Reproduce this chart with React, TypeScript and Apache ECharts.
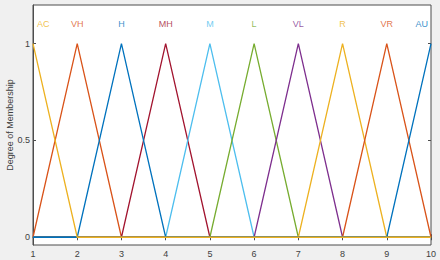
import React, { useEffect, useRef } from "react";
import * as echarts from "echarts";

const categories = ["AC", "VH", "H", "MH", "M", "L", "VL", "R", "VR", "AU"];
const paramA = [0, 1, 2, 3, 4, 5, 6, 7, 8, 9];
const paramB = [1, 2, 3, 4, 5, 6, 7, 8, 9, 10];
const paramC = [2, 3, 4, 5, 6, 7, 8, 9, 10, 11];
const colors = ["#EDB120", "#D95319", "#0072BD", "#A2142F", "#4DBEEE", "#77AC30", "#7E2F8E", "#EDB120", "#D95319", "#0072BD"];
const xTicks = [1, 2, 3, 4, 5, 6, 7, 8, 9, 10];
const yTicks = [0, 0.5, 1];
const drawOrder = [1, 3, 4, 5, 6, 7, 8, 9, 2, 0];
const labelLevel = 1.1;
const X_MIN = 1;
const X_MAX = 10;

function trimf(x: number, a: number, b: number, c: number) {
  const l = b === a ? (x >= b ? 1 : 0) : (x - a) / (b - a);
  const r = c === b ? (x <= b ? 1 : 0) : (c - x) / (c - b);
  return Math.max(0, Math.min(l, r));
}

function mfPoints(i: number) {
  const xs = [X_MIN, paramA[i], paramB[i], paramC[i], X_MAX].filter((x) => x >= X_MIN && x <= X_MAX);
  const uniq = Array.from(new Set(xs)).sort((p, q) => p - q);
  return uniq.map((x) => [x, trimf(x, paramA[i], paramB[i], paramC[i])]);
}

export default function App() {
  const ref = useRef<HTMLDivElement>(null);
  useEffect(() => {
    document.body.style.margin = "0";
    const chart = echarts.init(ref.current!, undefined, { renderer: "svg" });
    const font = "Liberation Sans, Arial, sans-serif";
    const axisColor = "#4d4d4d";
    const textColor = "#404040";
    const series: any[] = drawOrder.map((i) => ({
      type: "line",
      name: categories[i],
      data: mfPoints(i),
      showSymbol: false,
      symbol: "none",
      lineStyle: { color: colors[i], width: 1.3 },
      itemStyle: { color: colors[i] },
      xAxisIndex: 0,
      yAxisIndex: 0,
    }));
    series.push({
      type: "scatter",
      symbolSize: 0,
      silent: true,
      data: categories.map((c, i) => ({
        value: [paramB[i], labelLevel],
        name: c,
        label: {
          color: colors[i],
          align: paramB[i] === X_MIN ? "left" : paramB[i] === X_MAX ? "right" : "center",
          offset: paramB[i] === X_MIN ? [4, 0] : paramB[i] === X_MAX ? [-3, 0] : [0, 0],
        },
      })),
      label: {
        show: true,
        position: "inside",
        formatter: (p: any) => p.name,
        fontFamily: font,
        fontSize: 9,
      },
    });
    chart.setOption({
      animation: false,
      backgroundColor: "#f0f0f0",
      grid: {
        left: 33,
        right: 9,
        top: 5,
        bottom: 15,
        containLabel: false,
        outerBoundsMode: "none",
        show: true,
        backgroundColor: "#ffffff",
        borderColor: axisColor,
        borderWidth: 1,
      },
      xAxis: [
        {
          type: "value",
          min: X_MIN,
          max: X_MAX,
          interval: 1,
          axisLine: { show: true, lineStyle: { color: axisColor } },
          axisTick: { show: true, inside: true, length: 3, lineStyle: { color: axisColor } },
          axisLabel: {
            color: textColor,
            fontFamily: font,
            fontSize: 9,
            margin: 4,
            customValues: xTicks,
            showMinLabel: true,
            showMaxLabel: true,
          },
          splitLine: { show: false },
        },
        {
          type: "value",
          position: "top",
          min: X_MIN,
          max: X_MAX,
          interval: 1,
          axisLine: { show: false },
          axisTick: { show: true, inside: true, length: 3, lineStyle: { color: axisColor } },
          axisLabel: { show: false },
          splitLine: { show: false },
        },
      ],
      yAxis: [
        {
          type: "value",
          min: -0.04,
          max: 1.2,
          name: "Degree of Membership",
          nameLocation: "middle",
          nameGap: 19,
          nameMoveOverlap: false,
          nameRotate: 90,
          nameTextStyle: { fontFamily: font, fontSize: 9, color: textColor },
          axisLine: { show: true, lineStyle: { color: axisColor } },
          axisTick: { show: true, inside: true, length: 3, customValues: yTicks, lineStyle: { color: axisColor } },
          axisLabel: { color: textColor, fontFamily: font, fontSize: 9, margin: 3, customValues: yTicks },
          splitLine: { show: false },
        },
        {
          type: "value",
          position: "right",
          min: -0.04,
          max: 1.2,
          axisLine: { show: false },
          axisTick: { show: true, inside: true, length: 3, customValues: yTicks, lineStyle: { color: axisColor } },
          axisLabel: { show: false, customValues: yTicks },
          splitLine: { show: false },
        },
      ],
      series,
    });
    return () => chart.dispose();
  }, []);
  return <div ref={ref} style={{ width: 440, height: 260, position: "absolute", left: 0, top: 0 }} />;
}
